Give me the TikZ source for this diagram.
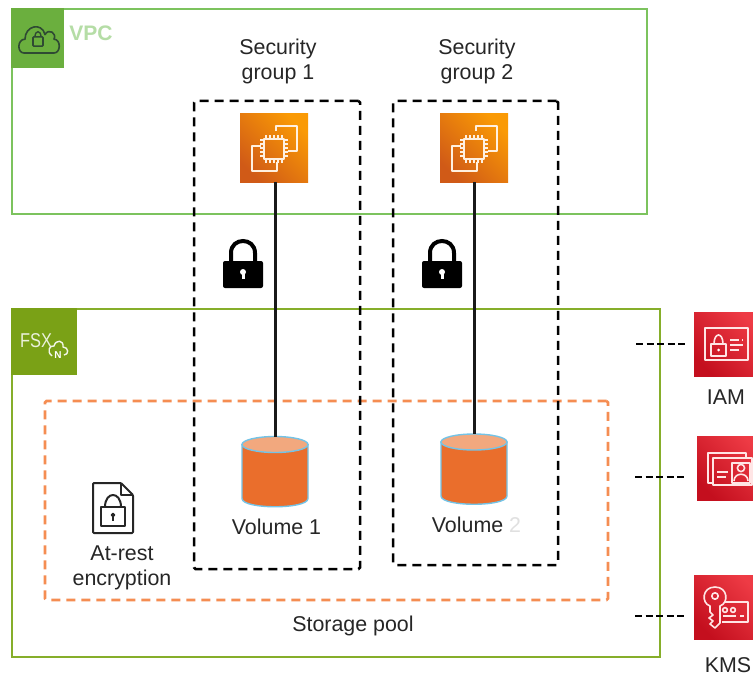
\documentclass[tikz,border=0pt]{standalone}
\usepackage{fontspec}
\setmainfont{Liberation Sans}
\usetikzlibrary{calc}
\definecolor{vpcborder}{HTML}{7CC35E}
\definecolor{vpchead}{HTML}{6BAF3E}
\definecolor{vpctext}{HTML}{B5DDA6}
\definecolor{vpcglyph}{HTML}{2F4A33}
\definecolor{fsxgreen}{HTML}{86AE2A}
\definecolor{fsxhead}{HTML}{7AA116}
\definecolor{encorange}{HTML}{F58D52}
\definecolor{cylbody}{HTML}{EA6E2C}
\definecolor{cyltop}{HTML}{F2A87E}
\definecolor{cylrim}{HTML}{74C3E6}
\definecolor{labelink}{HTML}{262626}
\definecolor{ecdark}{HTML}{D05A17}
\definecolor{eclight}{HTML}{FA9A05}
\definecolor{secdark}{HTML}{C40F1E}
\definecolor{seclight}{HTML}{EE3B45}
\tikzset{
  every node/.style={text=labelink,font=\fontsize{21.4}{24}\selectfont,inner sep=0pt,outer sep=0pt},
  cornerbox/.style={draw,line width=2.4pt},
  sgbox/.style={draw=black,line width=2.5pt,dash pattern=on 9pt off 6pt,rounded corners=1.5pt},
  encbox/.style={draw=encorange,line width=2.6pt,dash pattern=on 9pt off 6pt,rounded corners=1.5pt},
  keyline/.style={draw=black,line width=2.6pt,dash pattern=on 7pt off 3.5pt},
  link/.style={draw=black!90,line width=3pt},
  redtile/.style={rectangle,anchor=north west,minimum width=66pt,minimum height=64pt,shading=axis,left color=secdark,right color=seclight,shading angle=135},
  ectile/.style={rectangle,minimum width=68pt,minimum height=68pt,shading=axis,left color=ecdark,right color=eclight,shading angle=135},
  glyph/.style={draw=white!88!orange,line width=1.8pt,line join=round},
  redglyph/.style={draw=white!90!red,line width=1.6pt,line join=round},
  docglyph/.style={draw=black!85,line width=2pt,line join=round},
  ec2glyph/.pic={
    \draw[glyph] (36,17) -- (36,12) -- (57,12) -- (57,37) -- (48,37);
    \draw[glyph] (21,32) -- (12,32) -- (12,57) -- (37,57) -- (37,48);
    \draw[glyph,line width=2pt] (24,25) rectangle (44,45);
    \foreach \p in {26,30,34,38,42}{
      \draw[glyph,line width=1.2pt] (\p,21) -- (\p,25);
      \draw[glyph,line width=1.2pt] (\p,45) -- (\p,49);
      \draw[glyph,line width=1.2pt] (20,\p+.0) -- (24,\p+.0);
      \draw[glyph,line width=1.2pt] (44,\p) -- (48,\p);
    }
  },
  padlock/.pic={
    \draw[black,line width=4pt] (-12,-14) -- (-12,-22) .. controls (-12,-38) and (12,-38) .. (12,-22) -- (12,-14);
    \fill[black,rounded corners=2pt] (-20,-14) rectangle (20,13);
    \fill[white] (0,-3) circle [radius=3pt];
    \fill[white] (-1.5,-2) rectangle (1.5,4);
  },
  volume/.pic={
    \draw[cylrim,fill=cylbody,line width=1.4pt] (0,8) -- (0,62) .. controls (0,73) and (66,73) .. (66,62) -- (66,8) -- cycle;
    \draw[cylrim,fill=cyltop,line width=1.4pt] (33,8) ellipse [x radius=33pt,y radius=8pt];
  },
  vpcglyph/.pic={
    \begin{scope}[yscale=1.15]
    \draw[vpcglyph,line width=1.6pt,line join=round] (10,30) .. controls (3,30) and (3,18) .. (11,18)
      .. controls (11,6) and (28,3) .. (31,14) .. controls (35,8) and (43,13) .. (40,18)
      .. controls (47,18) and (47,30) .. (40,30) -- cycle;
    \draw[vpcglyph,line width=1.6pt,rounded corners=.8pt] (19,16) rectangle (29,24);
    \draw[vpcglyph,line width=1.4pt] (21,16) .. controls (21,10) and (27,10) .. (27,16);
    \end{scope}
  },
  docicon/.pic={
    \draw[docglyph,rounded corners=1pt] (0,0) -- (28,0) -- (40,12) -- (40,50) -- (0,50) -- cycle;
    \draw[docglyph] (28,0) -- (28,12) -- (40,12);
    \draw[docglyph] (8,24) rectangle (32,43);
    \draw[docglyph] (12,24) .. controls (12,8) and (28,8) .. (28,24);
    \draw[docglyph,fill=black!85,line width=1pt] (20,32) circle [radius=1.8pt];
    \draw[docglyph,line width=1.4pt] (20,33) -- (20,38);
  },
  iamglyph/.pic={
    \draw[redglyph] (11,16) rectangle (54,48);
    \draw[redglyph] (17,32) rectangle (32,44);
    \draw[redglyph] (20,32) .. controls (20,20) and (29,20) .. (29,32);
    \fill[white] (24.5,38) circle [radius=1.5pt];
    \draw[redglyph] (36,28) -- (45,28) (48,28) -- (49,28) (36,33) -- (49,33) (36,38) -- (45,38);
  },
  idglyph/.pic={
    \draw[redglyph] (49,22) -- (49,17) -- (11,17) -- (11,47) -- (16,47);
    \draw[redglyph] (16,22) rectangle (55,49);
    \draw[redglyph] (35,27) rectangle (53,47);
    \draw[redglyph] (44,32) circle [radius=3.6pt];
    \draw[redglyph] (37,45) .. controls (37,36) and (51,36) .. (51,45);
    \draw[redglyph] (20,36) -- (31,36) (20,41) -- (29,41);
  },
  kmsglyph/.pic={
    \draw[redglyph] (16,31) .. controls (7,28) and (8,12) .. (21,12) .. controls (34,12) and (35,28) .. (26,31)
       -- (26,48) -- (21,53) -- (16,49) -- (19,46) -- (15,43) -- (19,40) -- (16,37) -- cycle;
    \draw[redglyph] (21,21) circle [radius=3.2pt];
    \draw[redglyph] (30,27) -- (54,27) -- (54,47) -- (28,47);
    \draw[redglyph] (31,35) circle [radius=2.4pt] (39,35) circle [radius=2.4pt];
    \draw[redglyph] (29,41) -- (42,41) (46,41) -- (50,41);
  },
}
\begin{document}
\begin{tikzpicture}[x=1pt,y=-1pt]
  \useasboundingbox (0,0) rectangle (753,677);
  \clip (0,0) rectangle (753,677);
  \fill[white] (0,0) rectangle (753,677);

  % VPC group
  \node[cornerbox,draw=vpcborder,anchor=north west,minimum width=635pt,minimum height=205pt] (vpc) at (12,9) {};
  \node[fill=vpchead,anchor=north west,minimum width=53pt,minimum height=60pt] (vpchd) at (11,8) {};
  \pic at (14,18.5) {vpcglyph};
  \node[text=vpctext,font=\fontsize{21}{24}\selectfont\bfseries] (vpclabel) at (91,33) {VPC};

  % FSx group
  \node[cornerbox,draw=fsxgreen,anchor=north west,minimum width=648pt,minimum height=348pt] (fsx) at (12,309) {};
  \node[fill=fsxhead,anchor=north west,minimum width=66pt,minimum height=67pt] (fsxhd) at (11,308) {};
  \node[text=white!85!fsxhead,font=\fontsize{20}{22}\selectfont,xscale=.82] (fsxlabel) at (36,341) {FSX};
  \draw[white!90!fsxhead,line width=1.4pt,line join=round] (52,356) .. controls (46,351) and (50,345) .. (54,346) .. controls (56,339) and (64,340) .. (63,347) .. controls (69,347) and (69,355) .. (64,355);
  \node[text=white,font=\fontsize{10}{10}\selectfont\bfseries] (fsxn) at (58,355) {N};

  % Encryption boundary
  \node[encbox,anchor=north west,minimum width=563pt,minimum height=199pt] (enc) at (45,401) {};

  % Security group boundaries
  \node[sgbox,anchor=north west,minimum width=166pt,minimum height=468pt] (sg1) at (194,101) {};
  \node[sgbox,anchor=north west,minimum width=165pt,minimum height=464pt] (sg2) at (393,101) {};

  \node[align=center] (sg1label) at (278,61.5) {Security\\[1pt]group 1};
  \node[align=center] (sg2label) at (477,61.5) {Security\\[1pt]group 2};

  % Instances
  \node[ectile] (ec1) at (274,148) {};
  \pic at (240,114) {ec2glyph};
  \node[ectile] (ec2) at (474,148) {};
  \pic at (440,114) {ec2glyph};

  % Volumes
  \node[minimum width=66pt,minimum height=71pt] (vol1) at (275,472) {};
  \node[minimum width=66pt,minimum height=71pt] (vol2) at (474,469.5) {};
  \pic at (242,436.5) {volume};
  \pic at (441,434) {volume};
  \draw[link] (ec1.south -| vol1.north) -- (vol1.north);
  \draw[link] (ec2.south) -- (vol2.north);
  \node (vol1label) at (276.5,527) {Volume 1};
  \node (vol2label) at (476.5,525) {Volume {\color{black!12}2}};

  % Locks
  \pic at (243,275) {padlock};
  \pic at (442,275) {padlock};

  % Encryption label
  \pic at (93,483) {docicon};
  \node[align=center] (atrest) at (122,567.5) {At-rest\\[1pt]encryption};
  \node (pool) at (353,626) {Storage pool};

  % Security services
  \node[redtile] (iam) at (694,312) {};
  \pic at (694,312) {iamglyph};
  \node (iamlabel) at (726,397) {IAM};
  \node[redtile] (idc) at (697,436) {};
  \pic at (697,436) {idglyph};
  \node[redtile] (kms) at (694,575) {};
  \pic at (694,575) {kmsglyph};
  \node (kmslabel) at (728,665) {KMS};

  \coordinate (iamfree) at (636,344);
  \coordinate (idcfree) at (635,477);
  \coordinate (kmsfree) at (635,616);
  \draw[keyline] (iamfree) -- ([xshift=-8pt]iam.west |- iamfree);
  \draw[keyline] (idcfree) -- ([xshift=-12pt]idc.west |- idcfree);
  \draw[keyline] (kmsfree) -- ([xshift=-9pt]kms.west |- kmsfree);
\end{tikzpicture}
\end{document}
